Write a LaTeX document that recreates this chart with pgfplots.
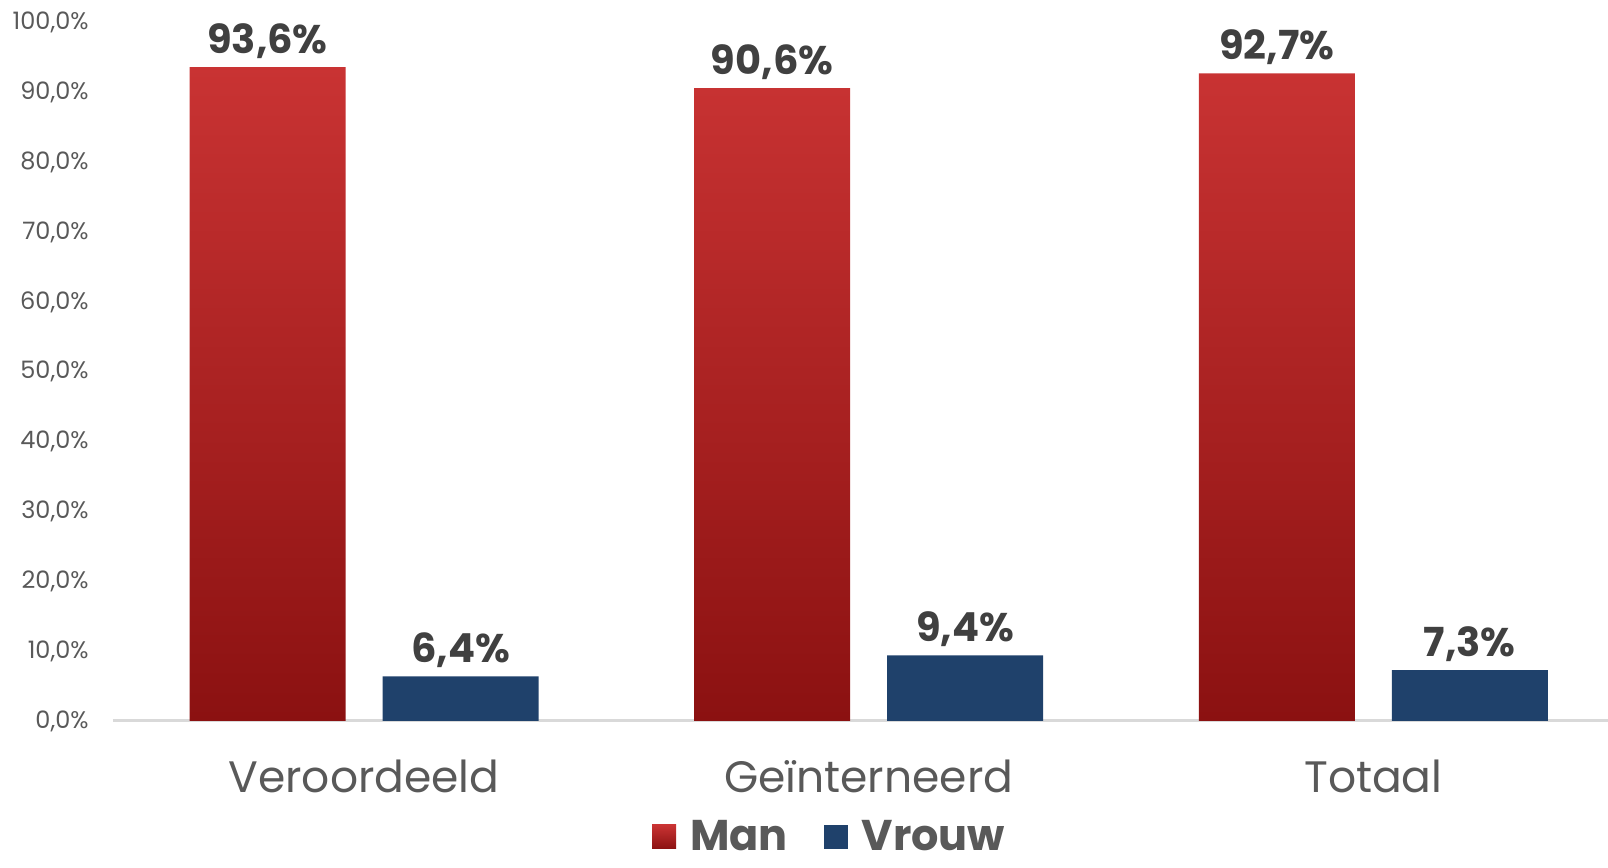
\documentclass[border=0pt]{standalone}
\usepackage{pgfplots}
\pgfplotsset{compat=1.18}
\usepackage{fontspec}
\setmainfont{Poppins}
\definecolor{redtop}{HTML}{C93333}
\definecolor{redbot}{HTML}{8B1111}
\definecolor{navy}{HTML}{1F416B}
\definecolor{ticktext}{HTML}{595959}
\definecolor{labeltext}{HTML}{404040}
\definecolor{axisgray}{HTML}{D9D9D9}
\begin{document}
\begin{tikzpicture}
\path[use as bounding box] (0pt,0pt) rectangle (804pt,434pt);
\begin{axis}[
  at={(56.5pt,73.5pt)}, anchor=south west,
  scale only axis, width=747.5pt, height=349.25pt,
  xmin=-0.4974, xmax=2.465, ymin=0, ymax=100,
  ybar=18.5pt, bar width=78pt,
  axis x line*=bottom, axis y line*=left,
  x axis line style={draw=axisgray, line width=1.5pt},
  y axis line style={draw=none},
  tick style={draw=none},
  xtick={0,1,2}, xticklabels={Veroordeeld, Geïnterneerd, Totaal},
  ytick={0,10,...,100},
  yticklabel={\pgfmathprintnumber[fixed,fixed zerofill,precision=1,use comma,assume math mode=true]{\tick}\%},
  yticklabel style={font=\fontsize{12}{14}\selectfont, text=ticktext, inner sep=0pt, xshift=-12pt},
  xticklabel style={font=\fontsize{22}{26}\selectfont, text=ticktext, inner sep=0pt, yshift=-15pt},
  nodes near coords={\pgfmathprintnumber[fixed,fixed zerofill,precision=1,use comma,assume math mode=true]{\pgfplotspointmeta}\%},
  every node near coord/.append style={font=\bfseries\fontsize{20}{24}\selectfont, text=labeltext, anchor=base, inner sep=0pt, yshift=7pt},
  legend style={at={(0.48,-0.166)}, anchor=center, draw=none, fill=none, legend columns=2,
    font=\bfseries\fontsize{21.5}{25}\selectfont, text=ticktext, inner sep=1pt,
    /tikz/every even column/.append style={column sep=16pt}},
  legend image code/.code={\path[#1, draw=none] (0pt,-6pt) rectangle (12pt,6pt); \path (17pt,0pt);},
]
\addplot[draw=none, top color=redtop, bottom color=redbot] coordinates {(0,93.6) (1,90.6) (2,92.7)};
\addplot[draw=none, fill=navy] coordinates {(0,6.4) (1,9.4) (2,7.3)};
\legend{Man, Vrouw}
\end{axis}
\end{tikzpicture}
\end{document}
